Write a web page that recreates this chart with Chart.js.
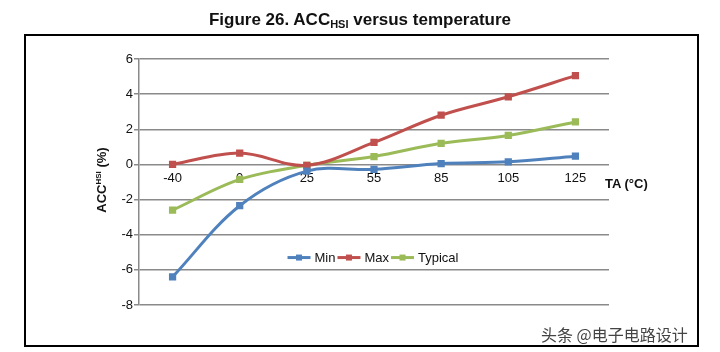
<!DOCTYPE html>
<html>
<head>
<meta charset="utf-8">
<script src="https://cdn.jsdelivr.net/npm/chart.js@4"></script>
<style>
body{margin:0;background:#fff;}
#wrap{position:relative;width:720px;height:352px;font-family:"Liberation Sans",Arial,sans-serif;color:#111;}
#chart{position:absolute;left:0;top:0;}
#frame{position:absolute;left:24px;top:34px;width:675px;height:313px;border:2px solid #000;box-sizing:border-box;pointer-events:none;}
#title{position:absolute;left:0;top:10px;width:720px;text-align:center;font-weight:bold;font-size:17px;white-space:nowrap;}
#title sub{font-size:11px;vertical-align:-3px;line-height:0;}
#ytitle{position:absolute;left:101px;top:180px;transform:translate(-50%,-50%) rotate(-90deg);font-weight:bold;font-size:13px;white-space:nowrap;}
#ytitle sup{font-size:8px;vertical-align:5px;line-height:0;}
#xtitle{position:absolute;left:605px;top:176px;font-weight:bold;font-size:13px;white-space:nowrap;}
#mark{position:absolute;left:541px;top:322px;font-family:"Noto Sans CJK SC",sans-serif;font-size:16px;color:#444;text-shadow:0 0 2px #fff,0 0 2px #fff;white-space:nowrap;}
</style>
</head>
<body>
<div id="wrap">
  <canvas id="chart" width="720" height="352"></canvas>
  <div id="frame"></div>
  <div id="title">Figure 26. ACC<sub>HSI</sub> versus temperature</div>
  <div id="ytitle">ACC<sup>HSI</sup> (%)</div>
  <div id="xtitle">TA (°C)</div>
  <div id="mark">头条 @电子电路设计</div>
</div>
<script>

const temps = ['-40', '0', '25', '55', '85', '105', '125'];
const minVals = [-6.4, -2.35, -0.38, -0.28, 0.05, 0.15, 0.47];
const maxVals = [0, 0.65, -0.05, 1.25, 2.8, 3.85, 5.05];
const typVals = [-2.6, -0.85, -0.05, 0.45, 1.2, 1.65, 2.42];
const seriesNames = ['Min', 'Max', 'Typical'];
const seriesColors = ['#4F81BD', '#C0504D', '#9BBB59'];


function makeSet(i, vals){
    return {
        label: seriesNames[i],
        data: vals,
        borderColor: seriesColors[i],
        backgroundColor: seriesColors[i],
        borderWidth: 3,
        pointStyle: 'rect',
        pointRadius: 3,
        tension: 0.35
    };
}

// excel style legend: line with a small square on it
const lineLegend = {
    id: 'lineLegend',
    afterDraw(chart){
        const ctx = chart.ctx;
        const area = chart.chartArea;
        const sets = chart.data.datasets;
        ctx.save();
        ctx.font = '13px "Liberation Sans", Arial, sans-serif';
        let total = 0;
        sets.forEach(ds => { total += 23 + 4 + ctx.measureText(ds.label).width + 2; });
        let x = (area.left + area.right) / 2 - total / 2;
        const y = chart.scales.y.getPixelForValue(-5.3);
        sets.forEach(ds => {
            ctx.strokeStyle = ds.borderColor;
            ctx.lineWidth = 3;
            ctx.beginPath();
            ctx.moveTo(x, y);
            ctx.lineTo(x + 23, y);
            ctx.stroke();
            ctx.fillStyle = ds.borderColor;
            ctx.fillRect(x + 11.5 - 3, y - 3, 6, 6);
            ctx.fillStyle = '#111';
            ctx.textBaseline = 'middle';
            ctx.fillText(ds.label, x + 27, y + 1);
            x += 23 + 4 + ctx.measureText(ds.label).width + 2;
        });
        ctx.restore();
    }
};

new Chart(
    document.getElementById('chart'),
    {
        type: 'line',
        data: {
            labels: temps,
            datasets: [
                makeSet(0, minVals),
                makeSet(1, maxVals),
                makeSet(2, typVals)
            ]
        },
        options: {
            responsive: false,
            animation: false,
            layout: {
                padding: {left: 0, top: 59, right: 111, bottom: 47}
            },
            plugins: {
                legend: {display: false},
                tooltip: {enabled: false}
            },
            scales: {
                x: {
                    position: {y: 0},
                    offset: true,
                    afterFit: s => { s.height = 0; },
                    grid: {display: false, drawTicks: false},
                    border: {display: false},
                    ticks: {
                        color: '#111',
                        padding: 6,
                        maxRotation: 0,
                        font: {family: '"Liberation Sans", Arial, sans-serif', size: 13}
                    }
                },
                y: {
                    min: -8,
                    max: 6,
                    afterFit: s => { s.width = 139; },
                    grid: {color: '#8a8a8a', lineWidth: 1.5, tickLength: 5},
                    border: {color: '#8a8a8a', width: 1.5},
                    ticks: {
                        stepSize: 2,
                        color: '#111',
                        padding: 1,
                        font: {family: '"Liberation Sans", Arial, sans-serif', size: 13}
                    }
                }
            }
        },
        plugins: [lineLegend]
    }
);
</script>
</body>
</html>
